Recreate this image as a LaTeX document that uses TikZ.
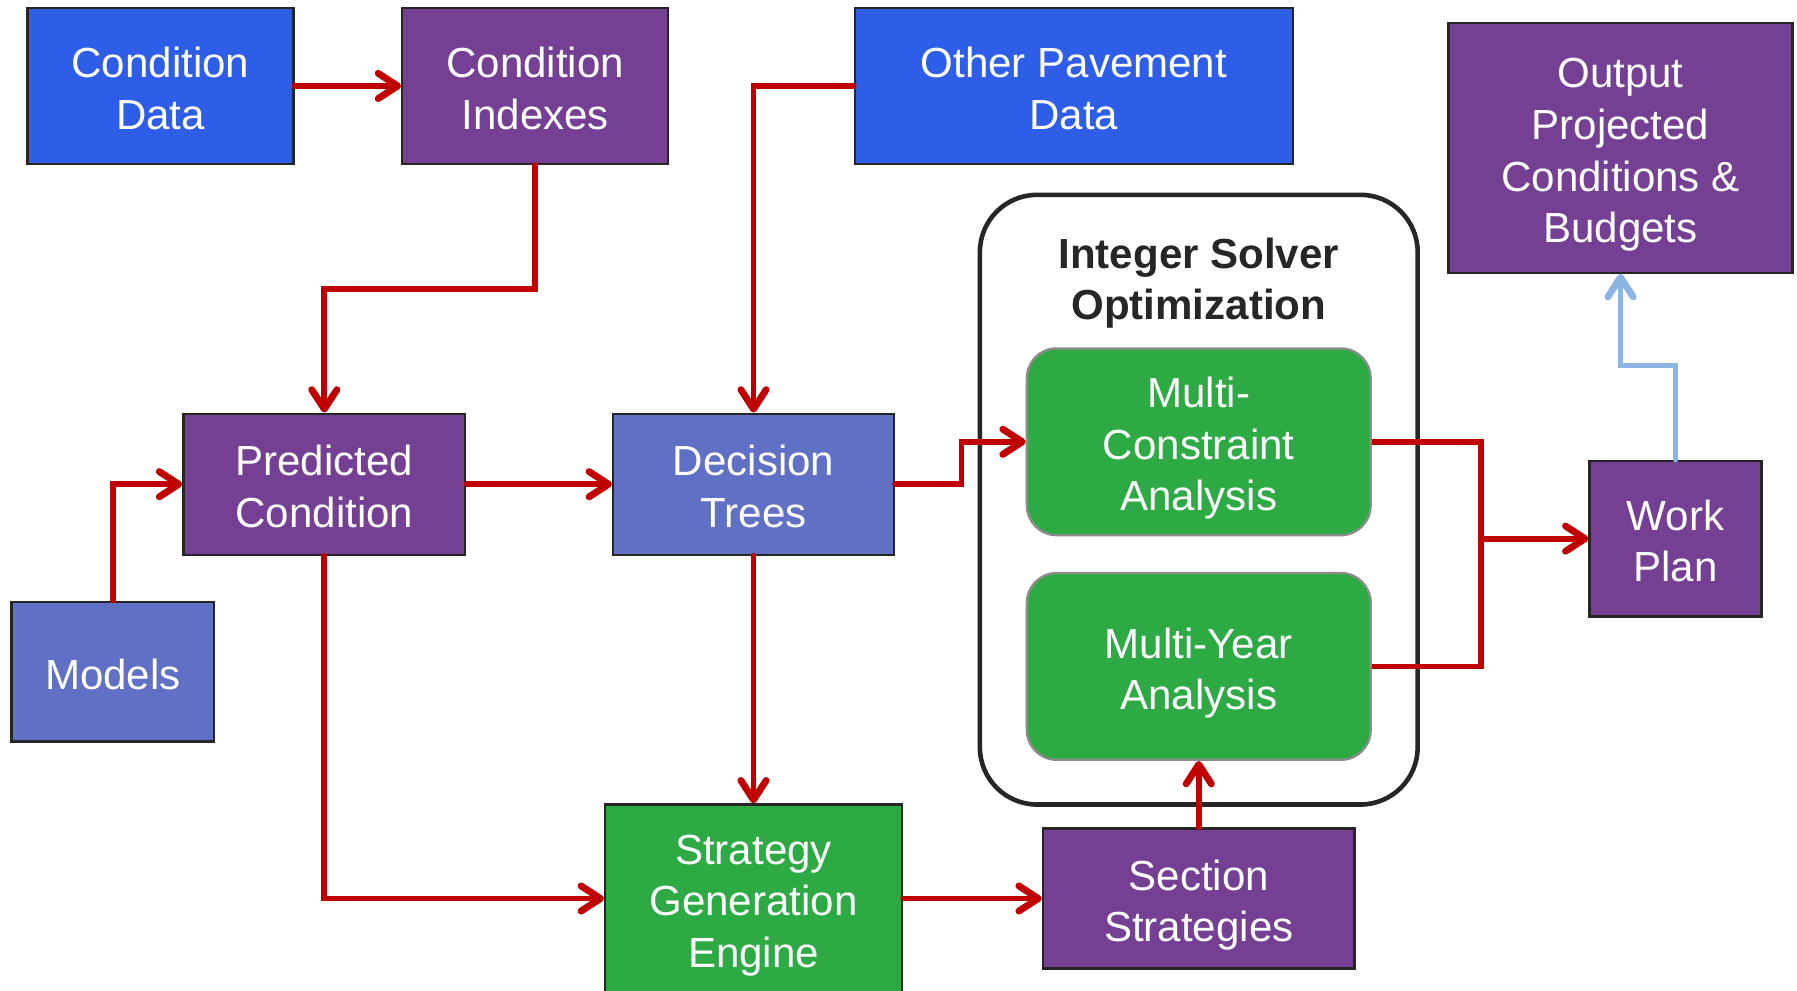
\documentclass[tikz,border=0pt]{standalone}
\usepackage{fontspec}
\setmainfont{Liberation Sans}
\usetikzlibrary{arrows.meta,calc}
\definecolor{dblue}{RGB}{46,94,232}
\definecolor{dpurple}{RGB}{117,64,148}
\definecolor{slate}{RGB}{96,112,196}
\definecolor{dgreen}{RGB}{46,170,69}
\definecolor{flow}{RGB}{192,0,0}
\definecolor{lblue}{RGB}{141,180,226}
\definecolor{ink}{RGB}{38,38,38}
\tikzset{
  box/.style={draw=ink, line width=2pt, text=white, align=center, inner sep=0pt,
    text depth=0pt, font=\fontsize{36.7}{45}\selectfont},
  % text block heights for one to four lines of label
  one/.style={text height=30.5pt},
  two/.style={text height=75.5pt},
  three/.style={text height=120.5pt},
  four/.style={text height=165.5pt},
  bluebox/.style={box, fill=dblue},
  purplebox/.style={box, fill=dpurple},
  slatebox/.style={box, fill=slate},
  greenbox/.style={box, fill=dgreen},
  greenround/.style={box, fill=dgreen, draw=gray!90, rounded corners=26pt},
  tip/.style={-{Straight Barb[length=17pt, width=22pt, line width=6pt, line cap=round, line join=round]}},
  arr/.style={draw=flow, line width=5pt, line cap=round, tip},
  flowline/.style={draw=flow, line width=5pt},
  blarr/.style={draw=lblue, line width=5pt, line cap=round, tip},
}
\begin{document}
\begin{tikzpicture}[x=1pt,y=-1pt]
\useasboundingbox[fill=white] (0,0) rectangle (1568,864);

% optimisation container
\draw[ink, line width=4pt, rounded corners=50pt] (855,170) rectangle (1237,702);
\node[font=\bfseries\fontsize{36.7}{45}\selectfont, text=ink, align=center] (ttl) at (1046,247) {Integer Solver\\Optimization};

% boxes
\node[bluebox, two, minimum width=232pt, minimum height=136pt] (cd) at (140,75) {Condition\\Data};
\node[purplebox, two, minimum width=232pt, minimum height=136pt] (ci) at (467,75) {Condition\\Indexes};
\node[bluebox, two, minimum width=382pt, minimum height=136pt] (opd) at (937,75) {Other Pavement\\Data};
\node[purplebox, four, minimum width=300pt, minimum height=218pt] (out) at (1414,129) {Output\\Projected\\Conditions \&\\Budgets};
\node[purplebox, two, minimum width=246pt, minimum height=123pt] (pc) at (283,422.5) {Predicted\\Condition};
\node[slatebox, two, minimum width=245pt, minimum height=123pt] (dt) at (657.5,422.5) {Decision\\Trees};
\node[slatebox, one, minimum width=177pt, minimum height=122pt] (mod) at (98.5,586) {Models};
\node[purplebox, two, minimum width=150pt, minimum height=136pt] (wp) at (1462,470) {Work\\Plan};
\node[greenbox, three, minimum width=259pt, minimum height=164pt] (sge) at (657.5,784) {Strategy\\Generation\\Engine};
\node[purplebox, two, minimum width=272pt, minimum height=122pt] (ss) at (1046,784) {Section\\Strategies};
\node[greenround, three, minimum width=300pt, minimum height=163pt] (mca) at (1046,385.5) {Multi-\\Constraint\\Analysis};
\node[greenround, two, minimum width=300pt, minimum height=163pt] (mya) at (1046,581.5) {Multi-Year\\Analysis};

% junction feeding the work plan
\coordinate (jn) at (1292,470);

% connectors
\draw[arr] (cd.east) -- (ci.west);
\draw[arr] (ci.south) -- (ci.south |- 0,252) -| (pc.north);
\draw[arr] (opd.west) -| (dt.north);
\draw[arr] (mod.north) |- (pc.west);
\draw[arr] (pc.east) -- (dt.west);
\draw[arr] (dt.east) -- ([xshift=58pt]dt.east) |- (mca.west);
\draw[arr] (dt.south) -- (sge.north);
\draw[arr] (pc.south) |- (sge.west);
\draw[arr] (sge.east) -- (ss.west);
\draw[arr] (ss.north) -- (mya.south);
\draw[flowline] (mca.east) -| (jn) |- (mya.east);
\draw[arr] (jn) -- (wp.west);
\draw[blarr] (wp.north) -- ([yshift=82pt]wp.north) -| (out.south);
\end{tikzpicture}
\end{document}
